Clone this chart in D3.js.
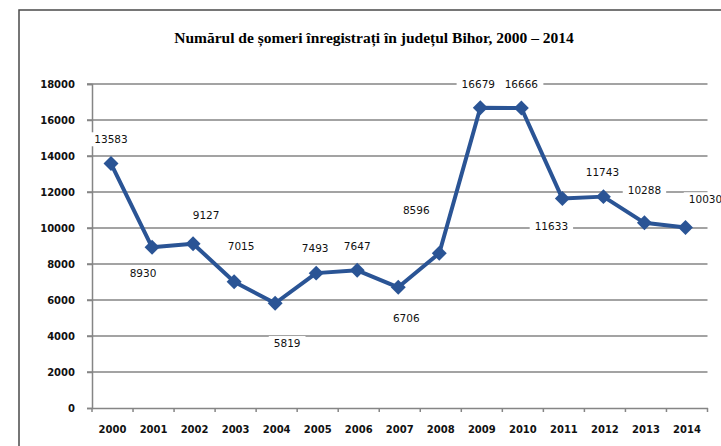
<!DOCTYPE html>
<html>
<head>
<meta charset="utf-8">
<script src="https://cdn.jsdelivr.net/npm/d3@7/dist/d3.min.js"></script>
<style>
  body { margin: 0; background: #fff; }
  svg { display: block; }
</style>
</head>
<body>
<svg id="chart" width="721" height="446"></svg>
<script>
const width = 721,
  height = 446;

const years = ["2000", "2001", "2002", "2003", "2004", "2005", "2006", "2007",
  "2008", "2009", "2010", "2011", "2012", "2013", "2014"];
const somers = [13583, 8930, 9127, 7015, 5819, 7493, 7647, 6706,
  8596, 16679, 16666, 11633, 11743, 10288, 10030];
const yTicks = [0, 2000, 4000, 6000, 8000, 10000, 12000, 14000, 16000, 18000];
const title = "Numărul de șomeri înregistrați în județul Bihor, 2000 – 2014";

// where excel put each data label, relative to its point
const labelShift = [
  [0, -24], [-9, 26], [13, -28], [7, -36], [12, 40], [-1, -25], [0, -24], [8, 31],
  [-23, -43], [-2, -24], [0, -24], [-11, 28], [-1, -24], [0, -33], [20, -28]
];

const margin = { left: 92, right: 13, top: 84, bottom: 38 };
const blue = "#2a5495";
const grey = "#858585";

const svg = d3.select("#chart");

// outer frame, cut off at right and bottom like the source
svg.append("rect")
  .attr("x", 19)
  .attr("y", 10)
  .attr("width", 720)
  .attr("height", 460)
  .attr("fill", "none")
  .attr("stroke", "#4a4a4a")
  .attr("stroke-width", 1.5);

svg.append("text")
  .attr("x", 374)
  .attr("y", 43)
  .attr("text-anchor", "middle")
  .style("font-family", "'Liberation Serif', 'Times New Roman', serif")
  .style("font-weight", "bold")
  .style("font-size", "15.5px")
  .text(title);

const x = d3.scaleBand()
  .domain(years)
  .range([margin.left, width - margin.right - 0.5]);

const y = d3.scaleLinear()
  .domain([0, 18000])
  .range([height - margin.bottom, margin.top]);

// gridlines
svg.append("g")
  .selectAll("line")
  .data(yTicks.filter(t => t > 0))
  .join("line")
  .attr("x1", margin.left - 5)
  .attr("x2", width - margin.right - 0.5)
  .attr("y1", d => y(d))
  .attr("y2", d => y(d))
  .attr("stroke", grey)
  .attr("stroke-width", 1.5);

// y axis
const yAxis = svg.append("g")
  .attr("transform", `translate(${margin.left},0)`)
  .call(d3.axisLeft(y).tickValues(yTicks).tickSize(5).tickPadding(12).tickFormat(d3.format("d")));
yAxis.select(".domain").attr("stroke", grey).attr("stroke-width", 1.5);
yAxis.selectAll(".tick line").attr("stroke", grey).attr("stroke-width", 1.5);
yAxis.selectAll("text")
  .style("font-family", "'DejaVu Sans', Verdana, sans-serif")
  .style("font-weight", "bold")
  .style("font-size", "10px")
  .attr("fill", "#111");

// x axis
const xAxis = svg.append("g")
  .attr("transform", `translate(0,${y(0)})`)
  .call(d3.axisBottom(x).tickSize(0).tickPadding(18));
xAxis.select(".domain").attr("stroke", grey).attr("stroke-width", 1.5);
xAxis.selectAll("text")
  .style("font-family", "'DejaVu Sans', Verdana, sans-serif")
  .style("font-weight", "bold")
  .style("font-size", "10px")
  .attr("fill", "#111");

// category boundary ticks
const bounds = years.map(d => x(d)).concat([x(years[years.length - 1]) + x.bandwidth()]);
xAxis.append("g")
  .selectAll("line")
  .data(bounds)
  .join("line")
  .attr("x1", d => d)
  .attr("x2", d => d)
  .attr("y1", 0)
  .attr("y2", 4)
  .attr("stroke", grey)
  .attr("stroke-width", 1.5);

const cx = i => x(years[i]) + x.bandwidth() / 2 - 1.5;

const line = d3.line()
  .x((d, i) => cx(i))
  .y(d => y(d));

svg.append("path")
  .datum(somers)
  .attr("d", line)
  .attr("fill", "none")
  .attr("stroke", blue)
  .attr("stroke-width", 4)
  .attr("stroke-linejoin", "round");

const diamond = d3.symbol().type(d3.symbolSquare).size(112);

svg.append("g")
  .selectAll("path")
  .data(somers)
  .join("path")
  .attr("d", diamond)
  .attr("transform", (d, i) => `translate(${cx(i)},${y(d)}) rotate(45)`)
  .attr("fill", blue);

// data labels with white boxes that cut the gridlines
const labels = svg.append("g")
  .selectAll("g")
  .data(somers)
  .join("g")
  .attr("transform", (d, i) =>
    `translate(${cx(i) + labelShift[i][0]},${y(d) + labelShift[i][1]})`);

labels.append("rect")
  .attr("fill", "#fff");

labels.append("text")
  .attr("text-anchor", "middle")
  .attr("dy", "0.36em")
  .style("font-family", "'DejaVu Sans', Verdana, sans-serif")
  .style("font-size", "10.5px")
  .attr("fill", "#111")
  .text(d => d);

labels.each(function () {
  const g = d3.select(this);
  const b = g.select("text").node().getBBox();
  g.select("rect")
    .attr("x", b.x - 5)
    .attr("y", b.y - 1)
    .attr("width", b.width + 10)
    .attr("height", b.height + 2);
});
</script>
</body>
</html>
